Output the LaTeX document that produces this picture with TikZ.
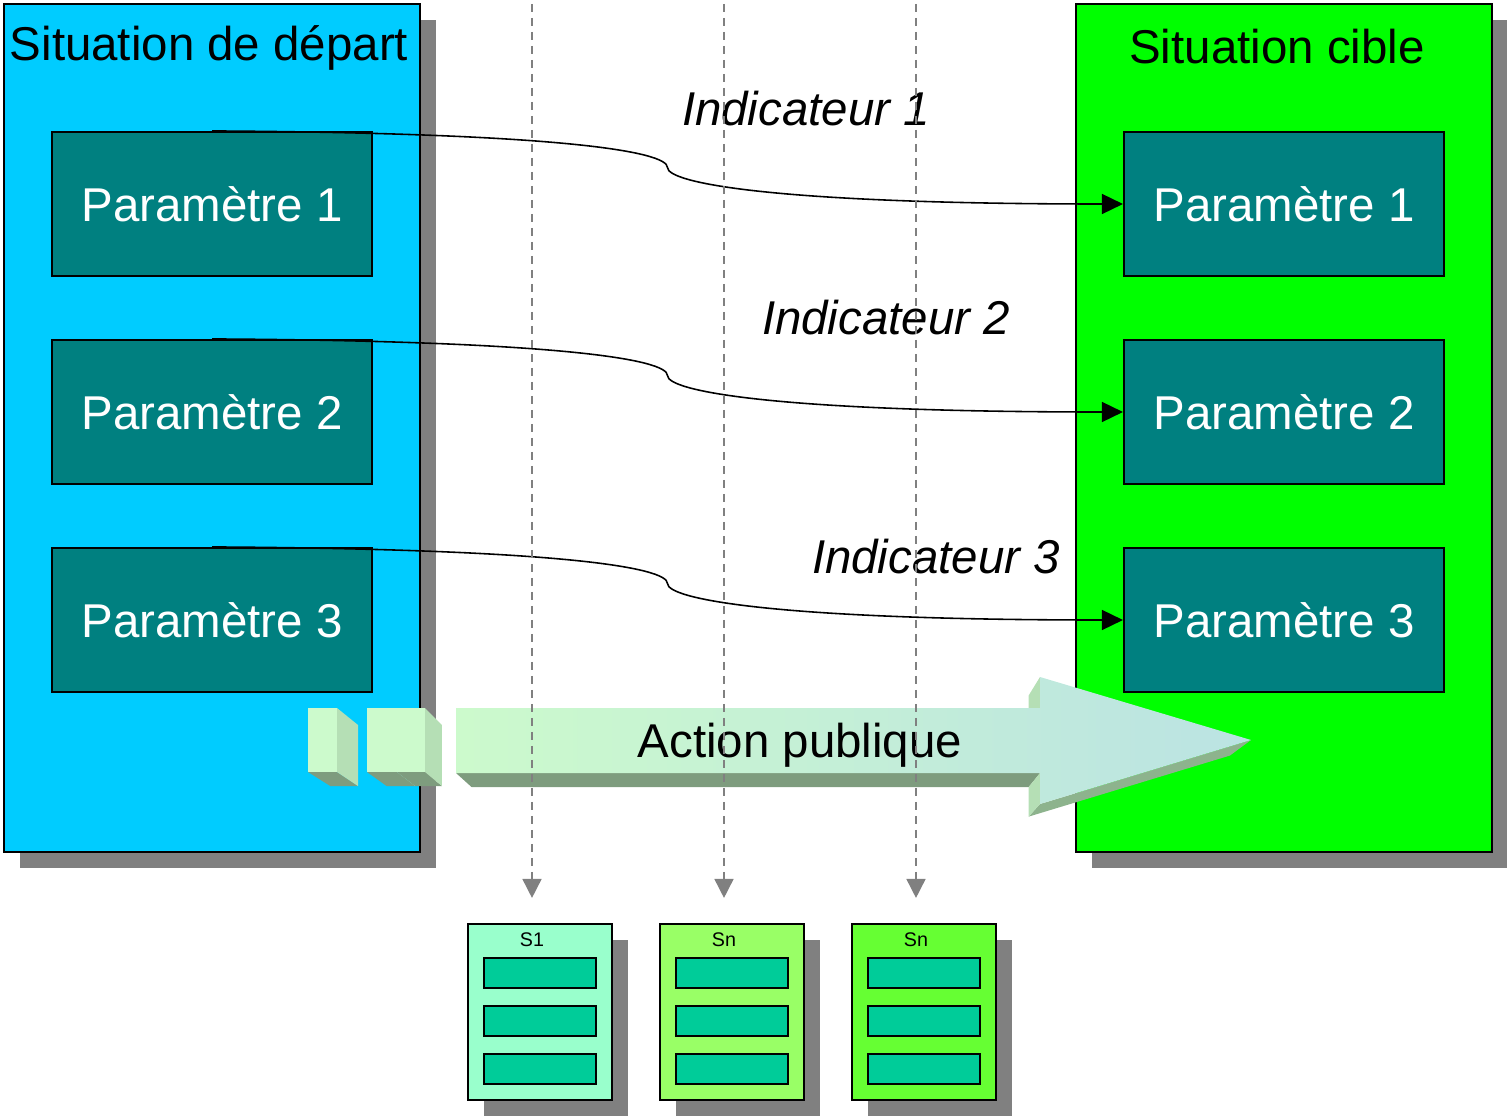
\documentclass[tikz,border=0pt]{standalone}
\usepackage{fontspec}
\setmainfont{Liberation Sans}
\usepackage{tikz}
\usetikzlibrary{arrows.meta, calc, shadows}

\definecolor{depart}{HTML}{00CCFF}
\definecolor{cible}{HTML}{00FF00}
\definecolor{param}{HTML}{008080}
\definecolor{ombre}{HTML}{808080}
\definecolor{sOne}{HTML}{99FFCC}
\definecolor{sTwo}{HTML}{99FF66}
\definecolor{sThree}{HTML}{66FF33}
\definecolor{slot}{HTML}{00CC99}
\definecolor{faceL}{HTML}{CCFACC}
\definecolor{faceR}{HTML}{BBE3E3}
\definecolor{sideL}{HTML}{B5DFB5}
\definecolor{sideD}{HTML}{7E9C7E}
\definecolor{sideH}{HTML}{8DB38D}

\begin{document}
\begin{tikzpicture}[x=0.1mm, y=-0.1mm,
    big/.style={font=\fontsize{13.5}{16}\selectfont},
    ind/.style={font=\fontsize{13.5}{16}\selectfont\itshape},
    panel/.style={draw=black, line width=0.6pt, minimum width=41.6mm, minimum height=84.8mm, inner sep=0pt,
        drop shadow={shadow xshift=1.6mm, shadow yshift=-1.6mm, fill=ombre, opacity=1}},
    param/.style={draw=black, line width=0.6pt, fill=param, text=white, big,
        minimum width=32mm, minimum height=14.4mm, inner sep=0pt},
    link/.style={-{Triangle[length=2.1mm, width=2mm]}, line width=0.45pt},
    guide/.style={draw=ombre, line width=0.45pt, dash pattern=on 0.8mm off 0.6mm,
        -{Triangle[length=1.9mm, width=1.9mm]}, shorten >=2.5mm},
    scen/.style={draw=black, line width=0.6pt, minimum width=14.4mm, minimum height=17.6mm, inner sep=0pt,
        drop shadow={shadow xshift=1.6mm, shadow yshift=-1.6mm, fill=ombre, opacity=1}},
    slotbox/.style={draw=black, line width=0.6pt, fill=slot, minimum width=11.2mm, minimum height=3mm, inner sep=0pt}]
    \useasboundingbox (0,0) rectangle (1507,1116);

    % Starting and target situations
    \node[panel, fill=depart] (gauche) at (212,428) {};
    \node[panel, fill=cible] (droite) at (1284,428) {};
    \node[big] (tg) at (209,48) {Situation de départ};
    \node[big] (td) at (1277,47) {Situation cible};

    % Parameters on both sides
    \foreach \k/\y in {1/204, 2/412, 3/620} {
        \node[param] (l\k) at (212,\y) {Paramètre \k};
        \node[param] (r\k) at (1284,\y) {Paramètre \k};
    }

    % Indicators linking the parameters
    \foreach \k in {1,2,3} {
        \coordinate (m\k) at ($(l\k.north)!0.5!(r\k.west)$);
        \draw[link] (l\k.north) .. controls +(348,2) and +(0,-16) .. (m\k)
            .. controls +(0,16) and +(-344,0) .. (r\k.west);
    }
    \node[ind] (i1) at (806,109) {Indicateur 1};
    \node[ind] (i2) at (886,318) {Indicateur 2};
    \node[ind] (i3) at (936,557) {Indicateur 3};

    % Public action arrow (3D)
    \coordinate (V) at (794,1078);
    \coordinate (a1) at (456,708);
    \coordinate (a2) at (1040,708);
    \coordinate (a3) at (1040,677);
    \coordinate (a4) at (1251,740);
    \coordinate (a5) at (1040,804);
    \coordinate (a6) at (1040,773);
    \coordinate (a7) at (456,773);
    \foreach \j in {1,...,7}
        \coordinate (b\j) at ($(a\j)!0.046!(V)$);
    \fill[sideD] (a6) -- (a7) -- (b7) -- (b6) -- cycle;
    \fill[sideH] (a4) -- (a5) -- (b5) -- (b4) -- cycle;
    \fill[sideL] (a2) -- (a3) -- (b3) -- (b2) -- cycle;
    \fill[sideL] (a5) -- (a6) -- (b6) -- (b5) -- cycle;
    \shade[left color=faceL, right color=faceR] (a1) -- (a2) -- (a3) -- (a4) -- (a5) -- (a6) -- (a7) -- cycle;
    \node[big] (act) at (800,745) {Action publique};

    % Small blocks before the arrow
    \foreach \xa/\xb in {308/337, 367/397, 397/425} {
        \coordinate (c1) at (\xa,708);
        \coordinate (c2) at (\xb,708);
        \coordinate (c3) at (\xb,772);
        \coordinate (c4) at (\xa,772);
        \coordinate (d2) at ($(c2)!0.046!(V)$);
        \coordinate (d3) at ($(c3)!0.046!(V)$);
        \coordinate (d4) at ($(c4)!0.046!(V)$);
        \fill[sideD] (c3) -- (c4) -- (d4) -- (d3) -- cycle;
        \fill[sideL] (c2) -- (c3) -- (d3) -- (d2) -- cycle;
        \fill[faceL] (c1) rectangle (c3);
    }

    % Scenarios
    \foreach \i/\x/\lab/\col in {1/540/S1/sOne, 2/732/Sn/sTwo, 3/924/Sn/sThree} {
        \node[scen, fill=\col] (s\i) at (\x,1012) {};
        \node[font=\fontsize{5.6}{7}\selectfont, inner sep=0pt] (s\i lab) at (\x-8,940) {\lab};
        \foreach \n/\yy in {a/973, b/1021, c/1069}
            \node[slotbox] (s\i\n) at (\x,\yy) {};
        \coordinate (t\i) at (\x-8,4);
        \draw[guide] (t\i) -- (t\i |- s\i.north);
    }
\end{tikzpicture}
\end{document}
